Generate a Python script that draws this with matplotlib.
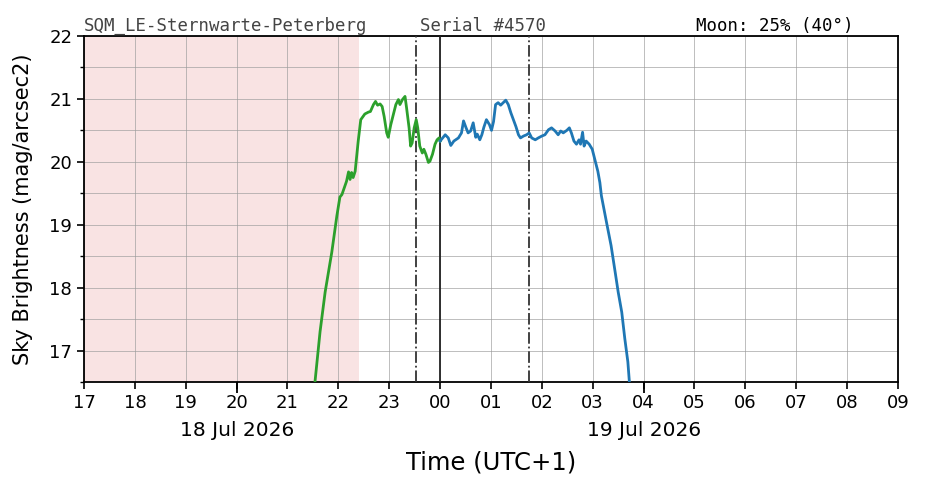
import matplotlib
matplotlib.use("Agg")
import matplotlib.pyplot as plt
from matplotlib.ticker import MultipleLocator, FixedLocator
import numpy as np

# hours since 00:00 on 18 Jul 2026 (24 = midnight)
green_h = [21.54, 21.64, 21.74, 21.87, 21.97, 22.03, 22.07, 22.16, 22.20, 22.23, 22.26, 22.29, 22.33,
           22.39, 22.44, 22.52, 22.59, 22.63, 22.69, 22.73, 22.77, 22.82, 22.86, 22.90, 22.95, 22.98,
           23.03, 23.08, 23.13, 23.18, 23.21, 23.26, 23.31, 23.34, 23.39, 23.42, 23.45, 23.49, 23.53,
           23.56, 23.60, 23.65, 23.68, 23.72, 23.77, 23.80, 23.85, 23.90, 23.94, 23.98, 24.00]
green_v = [16.50, 17.30, 17.93, 18.56, 19.14, 19.44, 19.48, 19.69, 19.84, 19.72, 19.83, 19.75, 19.85,
           20.33, 20.67, 20.76, 20.79, 20.80, 20.91, 20.96, 20.90, 20.92, 20.88, 20.72, 20.46, 20.39,
           20.59, 20.75, 20.91, 20.99, 20.91, 20.99, 21.04, 20.86, 20.54, 20.25, 20.30, 20.54, 20.67,
           20.54, 20.25, 20.14, 20.20, 20.12, 19.99, 20.01, 20.12, 20.28, 20.35, 20.38, 20.33]

blue_h = [24.00, 24.10, 24.16, 24.21, 24.27, 24.36, 24.42, 24.46, 24.51, 24.55, 24.60, 24.65, 24.70,
          24.73, 24.78, 24.82, 24.86, 24.91, 24.97, 25.01, 25.05, 25.09, 25.14, 25.19, 25.24, 25.29,
          25.34, 25.39, 25.44, 25.49, 25.54, 25.58, 25.64, 25.70, 25.75, 25.80, 25.87, 25.93, 26.00,
          26.06, 26.13, 26.19, 26.26, 26.32, 26.37, 26.42, 26.49, 26.54, 26.58, 26.63, 26.68, 26.73,
          26.76, 26.80, 26.83, 26.87, 26.93, 26.99, 27.04, 27.10, 27.14, 27.17, 27.27, 27.36, 27.44,
          27.50, 27.57, 27.63, 27.69, 27.72]
blue_v = [20.33, 20.43, 20.38, 20.26, 20.33, 20.38, 20.46, 20.65, 20.54, 20.46, 20.49, 20.62, 20.39,
          20.44, 20.35, 20.43, 20.55, 20.67, 20.59, 20.50, 20.64, 20.91, 20.94, 20.90, 20.94, 20.98,
          20.91, 20.78, 20.67, 20.56, 20.43, 20.38, 20.41, 20.43, 20.46, 20.38, 20.35, 20.38, 20.41,
          20.43, 20.51, 20.54, 20.49, 20.43, 20.49, 20.46, 20.50, 20.54, 20.46, 20.33, 20.28, 20.35,
          20.28, 20.47, 20.25, 20.33, 20.28, 20.20, 20.04, 19.85, 19.67, 19.46, 19.04, 18.67, 18.25,
          17.93, 17.61, 17.19, 16.82, 16.50]

hour_ticks = list(range(17, 34))
hour_labels = ["17", "18", "19", "20", "21", "22", "23", "00", "01", "02", "03", "04",
               "05", "06", "07", "08", "09"]
date_ticks = [20, 28]
date_labels = ["18 Jul 2026", "19 Jul 2026"]

daylight_span = (17.0, 22.40)
twilight_lines = [23.52, 25.75]
midnight = 24.0

title_left = "SQM_LE-Sternwarte-Peterberg"
title_mid = "Serial #4570"
title_right = "Moon: 25% (40°)"

fig = plt.figure(figsize=(9.26, 4.88), dpi=100)
ax = fig.add_axes([84/926, 1-382/488, (898-84)/926, (382-36)/488])

ax.axvspan(*daylight_span, color="#f9e3e3", zorder=0, lw=0)
ax.set_xlim(17, 33)
ax.set_ylim(16.5, 22)

ax.xaxis.set_major_locator(FixedLocator(hour_ticks))
ax.set_xticklabels(hour_labels)
ax.yaxis.set_major_locator(MultipleLocator(1))
ax.yaxis.set_minor_locator(MultipleLocator(0.5))
ax.grid(True, which="major", color="#9a9a9a", lw=0.6, alpha=0.75, zorder=1)
ax.grid(True, which="minor", axis="y", color="#9a9a9a", lw=0.6, alpha=0.75, zorder=1)
ax.set_axisbelow(True)

ax.tick_params(axis="both", which="major", labelsize=13, length=5, width=1.2)
ax.tick_params(axis="y", which="minor", length=3, width=1.0)
for s in ax.spines.values():
    s.set_linewidth(1.3)

for xv in twilight_lines:
    ax.axvline(xv, color="#333333", lw=1.3, ls="-.", zorder=3)
ax.axvline(midnight, color="#222222", lw=1.3, zorder=3)

ax.plot(green_h, green_v, color="#2ca02c", lw=2.0, zorder=4)
ax.plot(blue_h, blue_v, color="#1f77b4", lw=2.0, zorder=4)

sec = ax.secondary_xaxis("bottom")
sec.set_xticks(date_ticks)
sec.set_xticklabels(date_labels)
sec.tick_params(axis="x", length=8, width=1.3, pad=20, labelsize=14.5)
sec.spines["bottom"].set_visible(False)

ax.set_ylabel("Sky Brightness (mag/arcsec2)", fontsize=15, labelpad=12)
ax.set_xlabel("Time (UTC+1)", fontsize=17.5, labelpad=28)

ax.text(0.0, 1.003, title_left, transform=ax.transAxes, family="DejaVu Sans Mono",
        fontsize=12.5, color="#444444", ha="left", va="bottom")
ax.text((420-84)/814, 1.003, title_mid, transform=ax.transAxes, family="DejaVu Sans Mono",
        fontsize=12.5, color="#444444", ha="left", va="bottom")
ax.text((696-84)/814, 1.003, title_right, transform=ax.transAxes, family="DejaVu Sans Mono",
        fontsize=12.5, color="black", ha="left", va="bottom")

fig.savefig("out.png", dpi=100)
